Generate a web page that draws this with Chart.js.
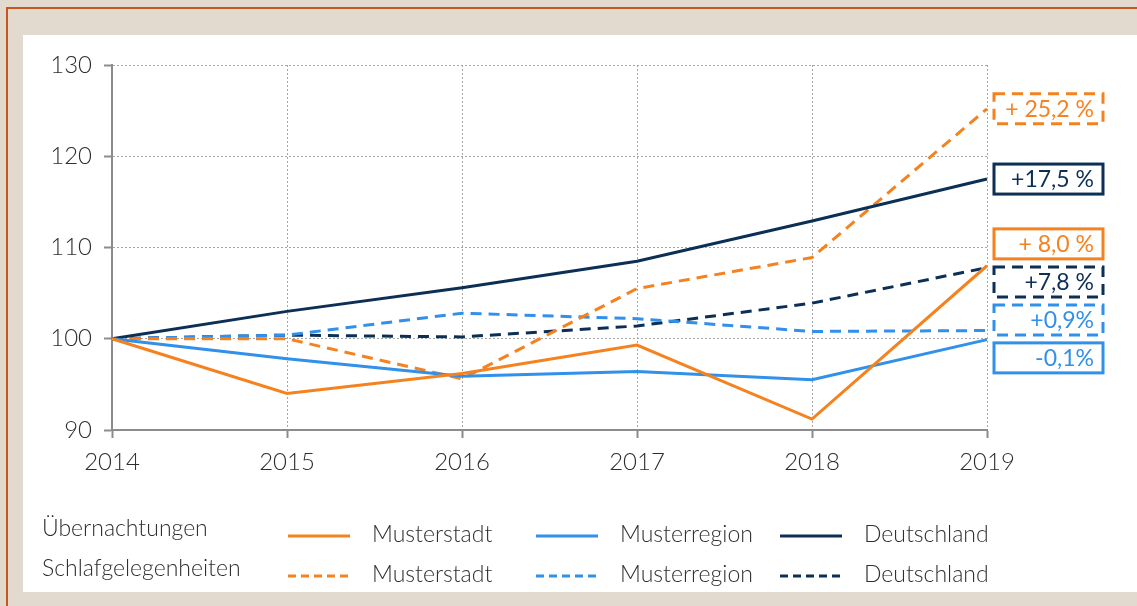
<!DOCTYPE html>
<html>
<head>
<meta charset="utf-8">
<script src="https://cdn.jsdelivr.net/npm/chart.js@4/dist/chart.umd.min.js"></script>
<style>
  html, body { margin: 0; padding: 0; }
  body { width: 1137px; height: 606px; background: #e2d9cf; position: relative; overflow: hidden; }
  #frame { position: absolute; left: 6px; top: 7px; right: -10px; bottom: -10px;
           border-left: 2px solid #c9561f; border-top: 2px solid #c9561f; }
  #panel { position: absolute; left: 23px; top: 35px; width: 1120px; height: 557px; background: #fff; }
  #wrap { position: absolute; left: 0; top: 0; width: 1137px; height: 606px; }
</style>
</head>
<body>
<div id="frame"></div>
<div id="panel"></div>
<div id="wrap"><canvas id="indexChart"></canvas></div>
<script>
// Data (Index 2014 = 100)
const years = ['2014', '2015', '2016', '2017', '2018', '2019'];
const uebMusterstadt = [100, 94.0, 96.2, 99.3, 91.2, 108.0];
const uebMusterregion = [100, 97.8, 95.9, 96.4, 95.5, 99.9];
const uebDeutschland = [100, 103.0, 105.6, 108.5, 112.9, 117.5];
const schMusterstadt = [100, 100.0, 95.6, 105.5, 108.9, 125.2];
const schMusterregion = [100, 100.4, 102.8, 102.2, 100.8, 100.9];
const schDeutschland = [100, 100.4, 100.2, 101.4, 103.9, 107.8];
const changeLabels = ['+ 8,0 %', '-0,1%', '+17,5 %', '+ 25,2 %', '+0,9%', '+7,8 %'];
const regionNames = ['Musterstadt', 'Musterregion', 'Deutschland'];
const rowNames = ['Übernachtungen', 'Schlafgelegenheiten'];

const ORANGE = '#f5821f';
const LIGHTBLUE = '#3190ea';
const NAVY = '#0c2f55';
const FONT = "Lato, 'Open Sans', sans-serif";
const TEXT = '#2e2e2e';
const DASH = [11, 7];

function lineSet(label, data, color, dashed) {
    return {
        label: label,
        data: data,
        borderColor: color,
        backgroundColor: color,
        borderWidth: 3,
        borderDash: dashed ? DASH : [],
        pointRadius: 0,
        tension: 0,
        fill: false
    };
}

// Boxes with the change in percent, right of the plot
const endLabels = {
    id: 'endLabels',
    afterDatasetsDraw(chart) {
        const ctx = chart.ctx;
        const yScale = chart.scales.y;
        const area = chart.chartArea;
        const items = chart.data.datasets.map((ds, i) => ({
            text: changeLabels[i],
            color: ds.borderColor,
            dashed: ds.borderDash.length > 0,
            y: yScale.getPixelForValue(ds.data[ds.data.length - 1])
        }));
        items.sort((a, b) => a.y - b.y);
        const gap = 38;
        for (let k = 0; k < 100; k++) {
            for (let i = 1; i < items.length; i++) {
                const d = items[i].y - items[i - 1].y;
                if (d < gap) {
                    const s = (gap - d) / 2;
                    items[i].y += s;
                    items[i - 1].y -= s;
                }
            }
        }
        const x = area.right + 7;
        const w = 109, h = 30;
        ctx.save();
        ctx.font = '23px ' + FONT;
        ctx.textAlign = 'right';
        ctx.textBaseline = 'middle';
        items.forEach(it => {
            ctx.lineWidth = 3;
            ctx.strokeStyle = it.color;
            ctx.setLineDash(it.dashed ? [11, 7] : []);
            ctx.strokeRect(x, it.y - h / 2, w, h);
            ctx.setLineDash([]);
            ctx.fillStyle = it.color;
            ctx.fillText(it.text, x + w - 9, it.y + 1);
        });
        ctx.restore();
    }
};

// Two-row legend below the chart
const rowLegend = {
    id: 'rowLegend',
    afterDraw(chart) {
        const ctx = chart.ctx;
        const ds = chart.data.datasets;
        const rowsY = [535, 575];
        const cols = [288, 536, 780];
        ctx.save();
        ctx.font = '300 23px ' + FONT;
        ctx.textBaseline = 'middle';
        rowsY.forEach((y, r) => {
            ctx.fillStyle = TEXT;
            ctx.textAlign = 'left';
            ctx.fillText(rowNames[r], 42, y - 6);
            cols.forEach((cx, c) => {
                const d = ds[r * 3 + c];
                ctx.strokeStyle = d.borderColor;
                ctx.lineWidth = 3;
                ctx.setLineDash(r === 1 ? [8, 5] : []);
                ctx.beginPath();
                ctx.moveTo(cx, y + 1);
                ctx.lineTo(cx + 62, y + 1);
                ctx.stroke();
                ctx.setLineDash([]);
                ctx.fillStyle = TEXT;
                ctx.fillText(regionNames[c], cx + 84, y);
            });
        });
        ctx.restore();
    }
};

const ctx = document.getElementById('indexChart').getContext('2d');
const indexChart = new Chart(ctx, {
    type: 'line',
    data: {
        labels: years,
        datasets: [
            lineSet('Übernachtungen Musterstadt', uebMusterstadt, ORANGE, false),
            lineSet('Übernachtungen Musterregion', uebMusterregion, LIGHTBLUE, false),
            lineSet('Übernachtungen Deutschland', uebDeutschland, NAVY, false),
            lineSet('Schlafgelegenheiten Musterstadt', schMusterstadt, ORANGE, true),
            lineSet('Schlafgelegenheiten Musterregion', schMusterregion, LIGHTBLUE, true),
            lineSet('Schlafgelegenheiten Deutschland', schDeutschland, NAVY, true)
        ]
    },
    options: {
        responsive: true,
        maintainAspectRatio: false,
        animation: false,
        layout: {
            padding: { left: 32, right: 150, top: 65, bottom: 126 }
        },
        scales: {
            x: {
                offset: false,
                grid: {
                    color: '#a6a6a6',
                    lineWidth: 1,
                    tickLength: 8,
                    tickColor: '#8c8c8c',
                    tickWidth: 2
                },
                border: { display: true, color: '#8c8c8c', width: 2, dash: [2, 2] },
                ticks: {
                    color: TEXT,
                    padding: 10,
                    font: { size: 24, family: FONT, weight: '300' }
                },
                afterFit: (s) => { s.height = 50; }
            },
            y: {
                min: 90,
                max: 130,
                ticks: {
                    stepSize: 10,
                    color: TEXT,
                    padding: 12,
                    font: { size: 24, family: FONT, weight: '300' }
                },
                grid: {
                    color: '#a6a6a6',
                    lineWidth: 1,
                    tickLength: 8,
                    tickColor: '#8c8c8c',
                    tickWidth: 2
                },
                border: { display: true, color: '#8c8c8c', width: 2, dash: [2, 2] },
                afterFit: (s) => { s.width = 80; }
            }
        },
        plugins: {
            legend: { display: false },
            tooltip: { enabled: false }
        }
    },
    plugins: [endLabels, rowLegend]
});
</script>
</body>
</html>
